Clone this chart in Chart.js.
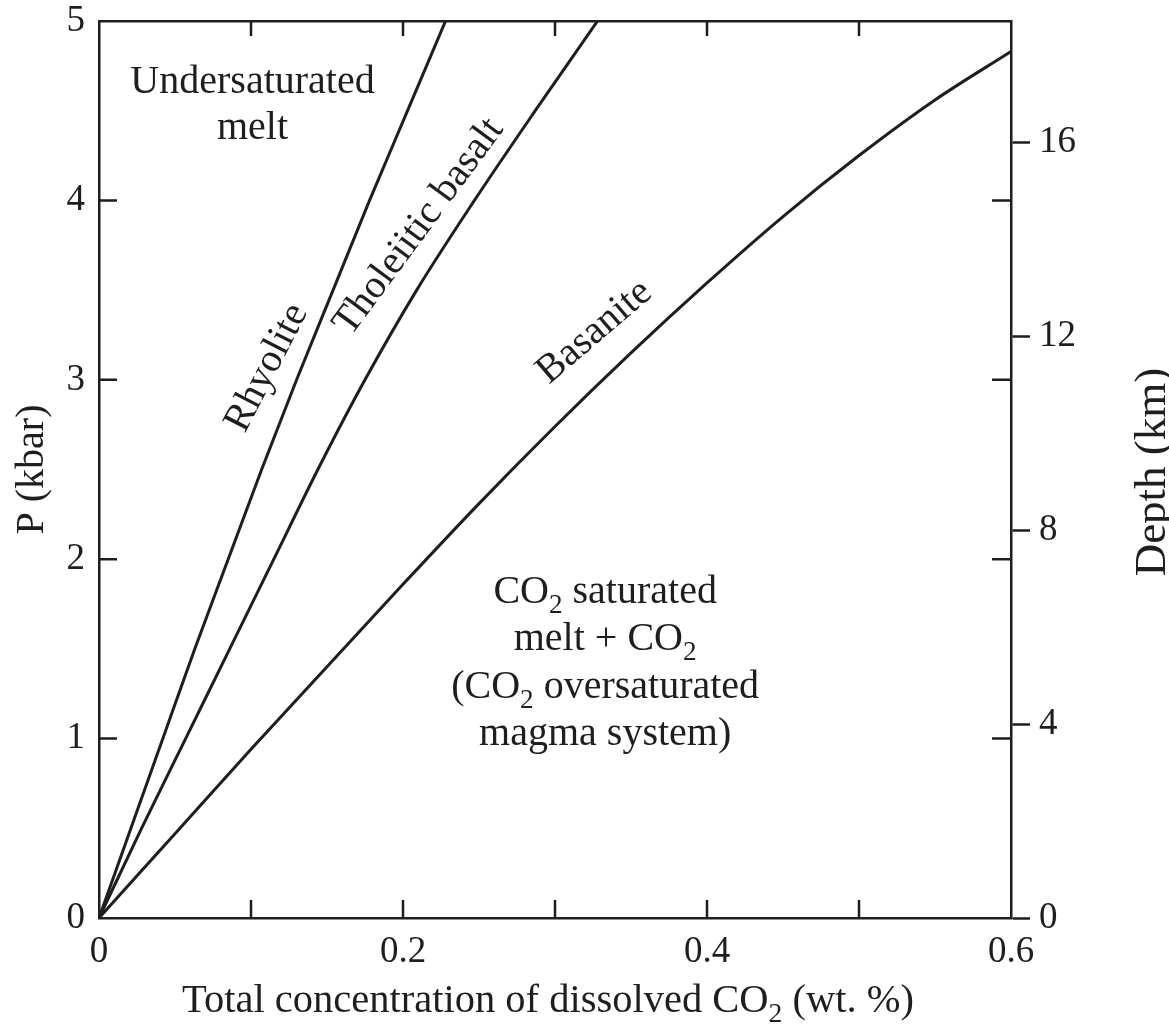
<!DOCTYPE html>
<html>
<head>
<meta charset="utf-8">
<script src="https://cdn.jsdelivr.net/npm/chart.js@4.4.0/dist/chart.umd.min.js"></script>
<style>
  html, body { margin: 0; padding: 0; background: #fff; }
  #wrap { width: 1169px; height: 1026px; }
</style>
</head>
<body>
<div id="wrap"><canvas id="co2-chart" width="1169" height="1026"></canvas></div>
<script>
// values: P (kbar) against dissolved CO2 (wt. %)
const pressureKbar = [0, 0.5, 1, 1.5, 2, 2.5, 3, 3.5, 4, 4.5, 5];
const rhyoliteCO2 = [0, 0.021, 0.042, 0.063, 0.085, 0.107, 0.130, 0.154, 0.178, 0.203, 0.228];
const tholeiiteCO2 = [0, 0.028, 0.057, 0.086, 0.115, 0.144, 0.175, 0.209, 0.247, 0.287, 0.328];
const basaniteCO2 = [0, 0.05, 0.1, 0.15, 0.2, 0.25, 0.3, 0.35, 0.4, 0.45, 0.5, 0.55, 0.6];
const basaniteP = [0, 0.47, 0.94, 1.40, 1.86, 2.31, 2.74, 3.15, 3.54, 3.91, 4.25, 4.56, 4.83];

// axis ticks
const co2Ticks = [0, 0.2, 0.4, 0.6];
const co2MinorTicks = [0.1, 0.2, 0.3, 0.4, 0.5];
const pressureTicks = [0, 1, 2, 3, 4, 5];
const pressureInnerTicks = [1, 2, 3, 4];
const depthTicksKm = [0, 4, 8, 12, 16];
const KM_PER_KBAR = 3.7;

const INK = '#1e1e1e';
const SERIF = "'Liberation Serif', 'DejaVu Serif', serif";

function setFont(ctx, size) {
  ctx.font = size + 'px ' + SERIF;
}

// draw text with subscripts written as CO_2
function richText(ctx, str, x, y, size, align) {
  const parts = str.split(/(_\d)/).filter(s => s);
  const subSize = size * 0.68;
  let total = 0;
  parts.forEach(p => {
    const isSub = p[0] === '_';
    setFont(ctx, isSub ? subSize : size);
    total += ctx.measureText(isSub ? p.slice(1) : p).width;
  });
  let cx = align === 'center' ? x - total / 2 : x;
  parts.forEach(p => {
    const isSub = p[0] === '_';
    const t = isSub ? p.slice(1) : p;
    setFont(ctx, isSub ? subSize : size);
    ctx.fillText(t, cx, isSub ? y + size * 0.25 : y);
    cx += ctx.measureText(t).width;
  });
}

// inward ticks, axis titles and labels inside the plot
const overlay = {
  id: 'overlay',
  afterDraw(chart) {
    const { ctx, chartArea: a, scales: { x, y } } = chart;
    ctx.save();
    ctx.strokeStyle = INK;
    ctx.lineWidth = 2.5;
    ctx.beginPath();
    co2MinorTicks.forEach(v => {
      const px = x.getPixelForValue(v);
      ctx.moveTo(px, a.bottom); ctx.lineTo(px, a.bottom - 18);
      ctx.moveTo(px, a.top); ctx.lineTo(px, a.top + 15);
    });
    pressureInnerTicks.forEach(v => {
      const py = y.getPixelForValue(v);
      ctx.moveTo(a.left, py); ctx.lineTo(a.left + 18, py);
      ctx.moveTo(a.right, py); ctx.lineTo(a.right - 19, py);
    });
    ctx.stroke();

    ctx.fillStyle = INK;
    ctx.textBaseline = 'alphabetic';
    ctx.textAlign = 'left';

    // x title
    richText(ctx, 'Total concentration of dissolved CO_2 (wt. %)', 548, 1012, 40.5, 'center');

    // right title, reads bottom to top
    ctx.save();
    ctx.translate(1165, 472);
    ctx.rotate(-Math.PI / 2);
    richText(ctx, 'Depth (km)', 0, 0, 45, 'center');
    ctx.restore();

    // region labels
    const under = ['Undersaturated', 'melt'];
    under.forEach((t, i) => {
      richText(ctx, t, x.getPixelForValue(0.101), y.getPixelForValue(4.60) + i * 46, 40, 'center');
    });
    const sat = ['CO_2 saturated', 'melt + CO_2', '(CO_2 oversaturated', 'magma system)'];
    sat.forEach((t, i) => {
      richText(ctx, t, x.getPixelForValue(0.333), y.getPixelForValue(1.756) + i * 47.5, 40, 'center');
    });

    // curve names along the lines
    const names = [
      { text: 'Rhyolite', co2: 0.1105, p: 3.066, angle: 62.7 },
      { text: 'Tholeiitic basalt', co2: 0.2105, p: 3.852, angle: 53.6 },
      { text: 'Basanite', co2: 0.326, p: 3.266, angle: 40.6 }
    ];
    names.forEach(n => {
      ctx.save();
      ctx.translate(x.getPixelForValue(n.co2), y.getPixelForValue(n.p));
      ctx.rotate(-n.angle * Math.PI / 180);
      setFont(ctx, 40);
      ctx.textAlign = 'center';
      ctx.textBaseline = 'middle';
      ctx.fillText(n.text, 0, 0);
      ctx.restore();
    });
    ctx.restore();
  }
};

function curve(label, xs, ys) {
  return {
    label: label,
    data: xs.map((v, i) => ({ x: v, y: ys[i] })),
    showLine: true,
    borderColor: INK,
    borderWidth: 3,
    pointRadius: 0,
    cubicInterpolationMode: 'monotone'
  };
}

// fixed box sizes so the plot area lands where it does in the picture
function fixBox(size) {
  return s => {
    if (s.isHorizontal()) s.height = size; else s.width = size;
    s.paddingTop = 0; s.paddingBottom = 0; s.paddingLeft = 0; s.paddingRight = 0;
  };
}

const tickFont = { family: SERIF, size: 37 };

new Chart(document.getElementById('co2-chart'), {
  type: 'scatter',
  data: {
    datasets: [
      curve('Rhyolite', rhyoliteCO2, pressureKbar),
      curve('Tholeiitic basalt', tholeiiteCO2, pressureKbar),
      curve('Basanite', basaniteCO2, basaniteP)
    ]
  },
  options: {
    responsive: false,
    devicePixelRatio: 1,
    animation: false,
    layout: { padding: 0 },
    plugins: { legend: { display: false }, tooltip: { enabled: false } },
    scales: {
      x: {
        type: 'linear', position: 'bottom', min: 0, max: 0.6,
        afterBuildTicks: s => { s.ticks = co2Ticks.map(v => ({ value: v })); },
        afterFit: fixBox(108),
        ticks: { font: tickFont, color: INK, padding: 12, maxRotation: 0,
          callback: v => v === 0 ? '0' : v.toFixed(1) },
        grid: { drawOnChartArea: false, drawTicks: false, color: INK },
        border: { color: INK, width: 2.5 }
      },
      xTop: {
        type: 'linear', axis: 'x', position: 'top', min: 0, max: 0.6,
        afterFit: fixBox(21),
        ticks: { display: false },
        grid: { drawOnChartArea: false, drawTicks: false, color: INK },
        border: { color: INK, width: 2.5 }
      },
      y: {
        type: 'linear', position: 'left', min: 0, max: 5,
        afterBuildTicks: s => { s.ticks = pressureTicks.map(v => ({ value: v })); },
        afterFit: fixBox(99),
        ticks: { font: tickFont, color: INK, padding: 14 },
        grid: { drawOnChartArea: false, drawTicks: false, color: INK },
        border: { color: INK, width: 2.5 },
        title: { display: true, text: 'P (kbar)', color: INK,
          font: { family: SERIF, size: 40 }, padding: { top: 8, bottom: 0 } }
      },
      yKm: {
        type: 'linear', axis: 'y', position: 'right', min: 0, max: 5 * KM_PER_KBAR,
        afterBuildTicks: s => { s.ticks = depthTicksKm.map(v => ({ value: v })); },
        afterFit: fixBox(158),
        ticks: { font: tickFont, color: INK, padding: 9 },
        grid: { drawOnChartArea: false, drawTicks: true, tickLength: 19, tickWidth: 2.5, tickColor: INK, color: INK },
        border: { color: INK, width: 2.5 }
      }
    }
  },
  plugins: [overlay]
});
</script>
</body>
</html>
